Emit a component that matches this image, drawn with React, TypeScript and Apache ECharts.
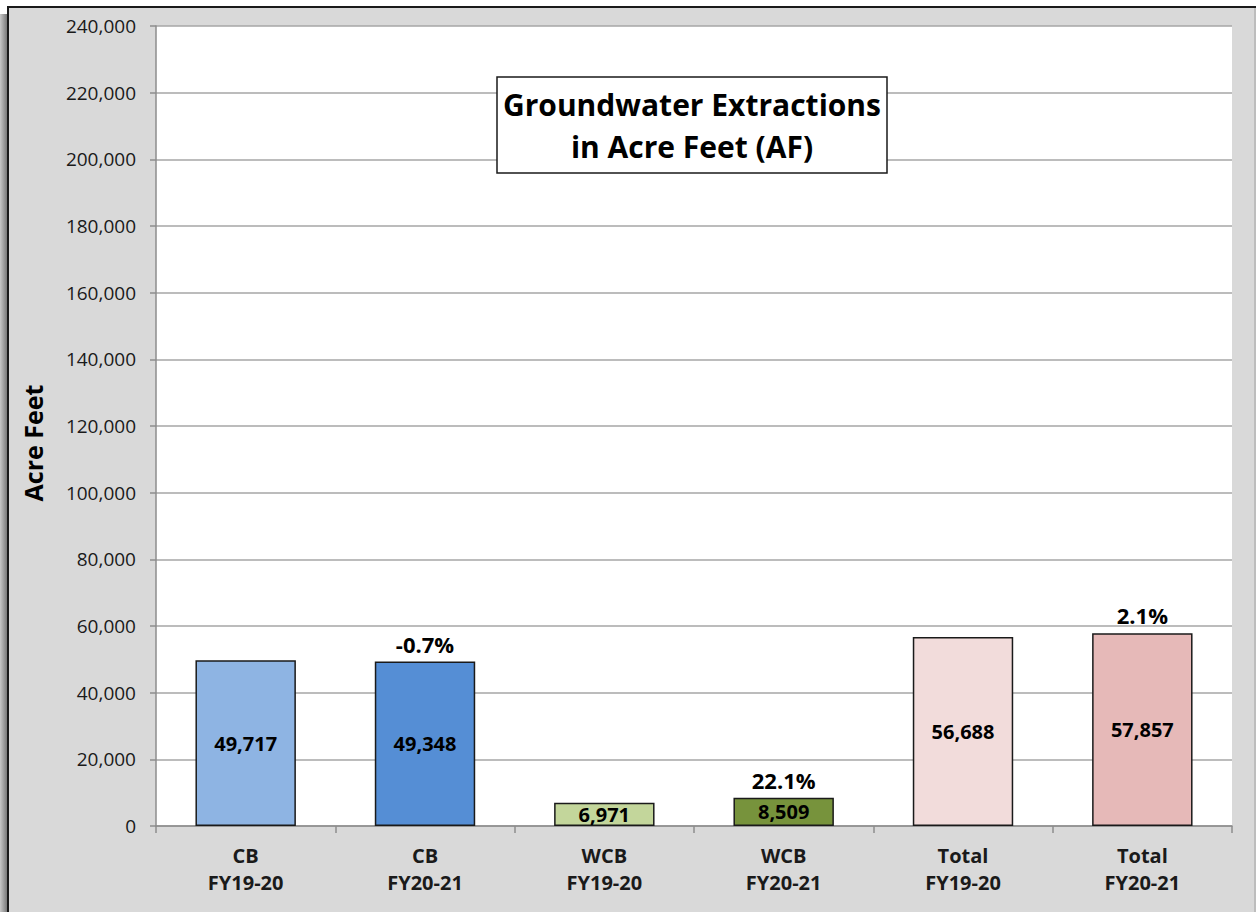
import React, { useEffect, useRef } from "react";
import * as echarts from "echarts";

const categories = ["CB\nFY19-20", "CB\nFY20-21", "WCB\nFY19-20", "WCB\nFY20-21", "Total\nFY19-20", "Total\nFY20-21"];
const values = [49717, 49348, 6971, 8509, 56688, 57857];
const barColors = ["#8EB4E3", "#558ED5", "#C3D69B", "#77933C", "#F2DCDB", "#E6B9B8"];
const changeLabels = ["", "-0.7%", "", "22.1%", "", "2.1%"];
const yTicks = { min: 0, max: 240000, interval: 20000 };
const titleLines = ["Groundwater Extractions", "in Acre Feet (AF)"];
const yAxisTitle = "Acre Feet";

const FONT = "'Open Sans', 'Liberation Sans', sans-serif";

export default function App() {
  const ref = useRef<HTMLDivElement>(null);
  useEffect(() => {
    if (!ref.current) return;
    const chart = echarts.init(ref.current, null, { renderer: "svg" });
    chart.setOption({
      animation: false,
      backgroundColor: "#ffffff",
      textStyle: { fontFamily: FONT },
      grid: { left: 156, right: 24, top: 26, bottom: 86 },
      xAxis: {
        type: "category",
        data: categories,
        axisLine: { lineStyle: { color: "#8c8c8c", width: 1.5 } },
        axisTick: { show: true, length: 7, alignWithLabel: false, lineStyle: { color: "#8c8c8c", width: 1.5 } },
        axisLabel: { color: "#1a1a1a", fontWeight: "bold", fontSize: 20, lineHeight: 27, margin: 16, fontFamily: FONT },
      },
      yAxis: {
        type: "value",
        min: yTicks.min,
        max: yTicks.max,
        interval: yTicks.interval,
        axisLine: { show: true, lineStyle: { color: "#8c8c8c", width: 1.5 } },
        axisTick: { show: true, length: 6, lineStyle: { color: "#8c8c8c", width: 1.5 } },
        axisLabel: {
          color: "#1a1a1a",
          fontSize: 19,
          margin: 20,
          fontFamily: FONT,
          formatter: (v: number) => v.toLocaleString("en-US"),
        },
        splitLine: { lineStyle: { color: "#a6a6a6", width: 1.5 } },
      },
      graphic: [
        { type: "rect", silent: true, z: -10, shape: { x: 0, y: 14, width: 8, height: 898 }, style: { fill: new echarts.graphic.LinearGradient(0, 0, 1, 0, [{ offset: 0, color: "#c8c8c8" }, { offset: 1, color: "#6e6e6e" }]) } },
        { type: "rect", silent: true, z: -10, shape: { x: 7, y: 6, width: 1249, height: 906 }, style: { fill: "#1a1a1a" } },
        { type: "rect", silent: true, z: -9, shape: { x: 9, y: 8, width: 1245, height: 904 }, style: { fill: "#d9d9d9" } },
        { type: "rect", silent: true, z: -9, shape: { x: 1254, y: 8, width: 2, height: 904 }, style: { fill: "#bdbdbd" } },
        { type: "rect", silent: true, z: -8, shape: { x: 156, y: 26, width: 1076, height: 800 }, style: { fill: "#ffffff" } },
        {
          type: "rect",
          z: 10,
          shape: { x: 497, y: 77, width: 390, height: 96 },
          style: { fill: "#ffffff", stroke: "#1a1a1a", lineWidth: 1.5 },
        },
        {
          type: "text",
          z: 11,
          x: 692,
          y: 125,
          style: {
            text: titleLines.join("\n"),
            fill: "#000000",
            font: `bold 30px ${FONT}`,
            lineHeight: 42,
            align: "center",
            verticalAlign: "middle",
          },
        },
        {
          type: "text",
          z: 11,
          x: 33,
          y: 443,
          rotation: Math.PI / 2,
          style: {
            text: yAxisTitle,
            fill: "#000000",
            font: `bold 25px ${FONT}`,
            align: "center",
            verticalAlign: "middle",
          },
        },
      ],
      series: [
        {
          type: "bar",
          barWidth: "56%",
          data: values.map((v, i) => ({ value: v, itemStyle: { color: barColors[i] } })),
          itemStyle: { borderColor: "#1a1a1a", borderWidth: 1.5 },
          label: {
            show: true,
            position: "inside",
            color: "#000000",
            fontWeight: "bold",
            fontSize: 20,
            fontFamily: FONT,
            formatter: (p: any) => Number(p.value).toLocaleString("en-US"),
          },
          z: 3,
        },
        {
          type: "bar",
          barWidth: "56%",
          barGap: "-100%",
          data: values,
          itemStyle: { color: "rgba(0,0,0,0)" },
          label: {
            show: true,
            position: "top",
            distance: 7,
            color: "#000000",
            fontWeight: "bold",
            fontSize: 22,
            fontFamily: FONT,
            formatter: (p: any) => changeLabels[p.dataIndex],
          },
          z: 4,
          silent: true,
        },
      ],
    });
    return () => chart.dispose();
  }, []);
  return <div ref={ref} style={{ position: "absolute", left: 0, top: 0, width: 1256, height: 912 }} />;
}
